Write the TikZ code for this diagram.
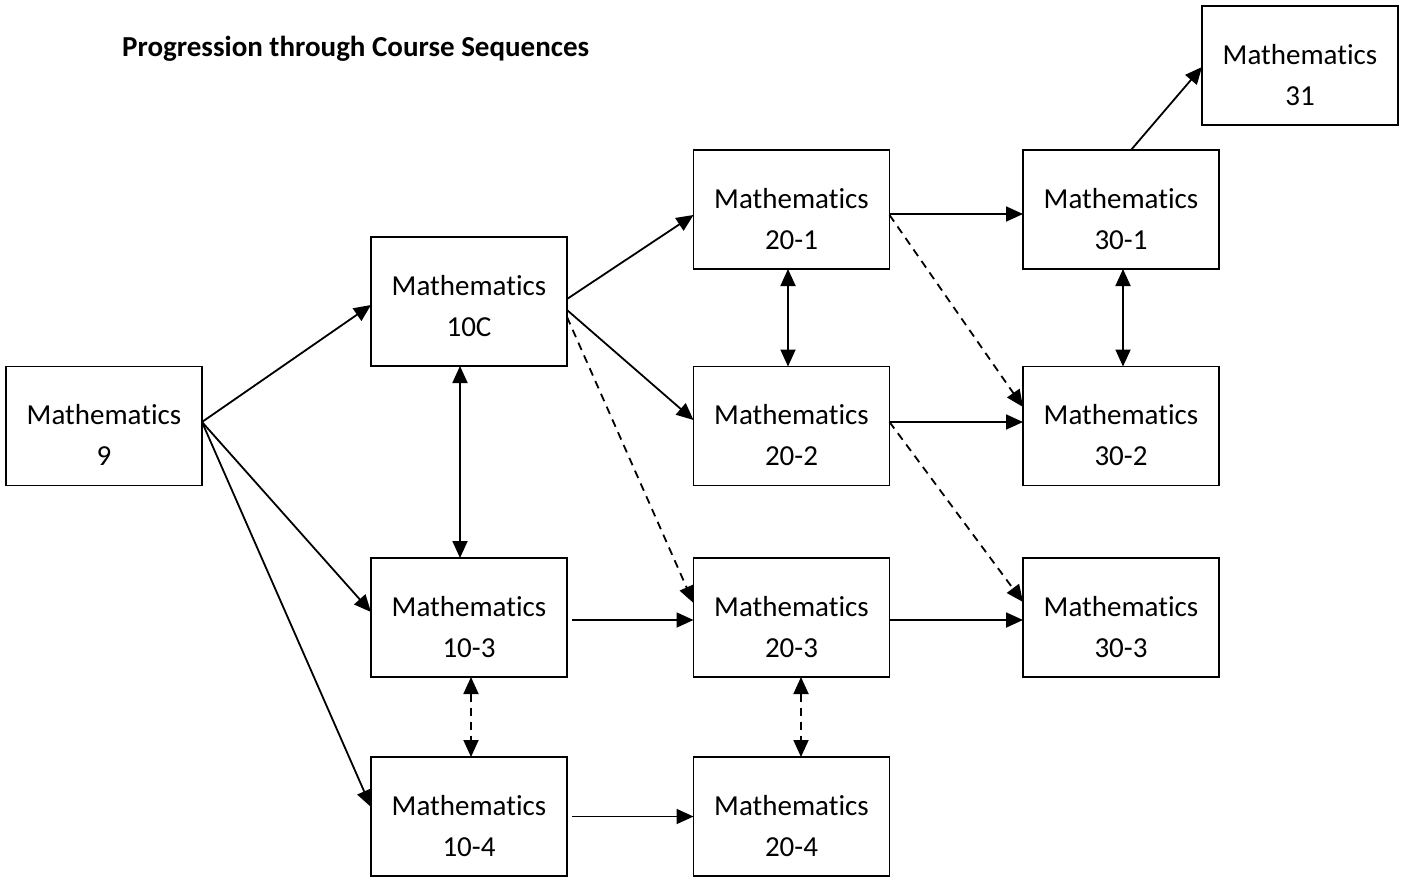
\documentclass[tikz,border=0pt]{standalone}
\usepackage{fontspec}
\setmainfont{Carlito}[Ligatures=NoCommon]
\usetikzlibrary{arrows.meta,calc}
\tikzset{
  crs/.style={draw, line width=1.8pt, minimum width=196pt, minimum height=119pt, inner sep=0pt, outer sep=0pt},
  lbl/.style={anchor=base, inner sep=0pt, font=\fontsize{29}{35}\selectfont},
  conn/.style={line width=1.8pt, -{Triangle[length=17pt,width=15pt]}},
  bi/.style={line width=1.8pt, {Triangle[length=17pt,width=15pt]}-{Triangle[length=17pt,width=15pt]}},
  dsh/.style={dash pattern=on 8pt off 6pt},
}
\newcommand\crsbox[4][119]{%
  \node[crs, minimum height=#1pt] (#2) at (#3) {};
  \node[lbl] (#2-a) at ($(#2.north)+(0,58)$) {Mathematics};
  \node[lbl] (#2-b) at ($(#2.north)+(0,99)$) {#4};
}
\begin{document}
\begin{tikzpicture}[x=1pt,y=-1pt]
\useasboundingbox (0,0) rectangle (1408,878);
\node[anchor=base west, inner sep=0pt, font=\bfseries\fontsize{29}{35}\selectfont] (title) at (122,56) {Progression through Course Sequences};

\crsbox{m9}{104,426}{9}
\crsbox[129]{m10c}{469,301.5}{10C}
\crsbox{m103}{469,617.5}{10-3}
\crsbox{m104}{469,816.5}{10-4}
\crsbox{m201}{791.5,209.5}{20-1}
\crsbox{m202}{791.5,426}{20-2}
\crsbox{m203}{791.5,617.5}{20-3}
\crsbox{m204}{791.5,816.5}{20-4}
\crsbox{m301}{1121,209.5}{30-1}
\crsbox{m302}{1121,426}{30-2}
\crsbox{m303}{1121,617.5}{30-3}
\crsbox{m31}{1300,65.5}{31}

% from Mathematics 9
\draw[conn] ([yshift=4pt]m9.east) -- ([yshift=-3.5pt]m10c.west);
\draw[conn] ([yshift=4pt]m9.east) -- ([yshift=5.5pt]m103.west);
\draw[conn] ([yshift=4pt]m9.east) -- ([yshift=9.5pt]m104.west);

% from 10C
\draw[conn] ([yshift=2.5pt]m10c.east) -- ([yshift=-5.5pt]m201.west);
\draw[conn] ([yshift=-8.5pt]m10c.east) -- ([yshift=6pt]m202.west);
\draw[conn,dsh] ([yshift=-15.5pt]m10c.east) -- ([yshift=14.5pt]m203.west);
\draw[bi] ([xshift=-9pt]m10c.south) -- ([xshift=-9pt]m103.north);

% 10-3, 10-4
\draw[conn] ([xshift=5pt,yshift=-2.5pt]m103.east) -- ([yshift=-2.5pt]m203.west);
\draw[bi,dsh] ([xshift=2pt]m103.south) -- ([xshift=2pt]m104.north);
\draw[conn] ([xshift=5pt]m104.east) -- (m204.west);

% 20 level
\draw[bi] ([xshift=-3.5pt]m201.south) -- ([xshift=-3.5pt]m202.north);
\draw[conn] ([yshift=-4.5pt]m201.east) -- ([yshift=-4.5pt]m301.west);
\draw[conn,dsh] ([yshift=-5.5pt]m201.east) -- ([yshift=19pt]m302.west);
\draw[conn] ([yshift=4pt]m202.east) -- ([yshift=4pt]m302.west);
\draw[conn,dsh] ([yshift=4pt]m202.east) -- ([yshift=15.5pt]m303.west);
\draw[conn] ([yshift=-2.5pt]m203.east) -- ([yshift=-2.5pt]m303.west);
\draw[bi,dsh] ([xshift=9.5pt]m203.south) -- ([xshift=9.5pt]m204.north);

% 30 level
\draw[bi] ([xshift=2pt]m301.south) -- ([xshift=2pt]m302.north);
\draw[conn] ([xshift=10pt]m301.north) -- ([yshift=-1.5pt]m31.west);
\end{tikzpicture}
\end{document}
